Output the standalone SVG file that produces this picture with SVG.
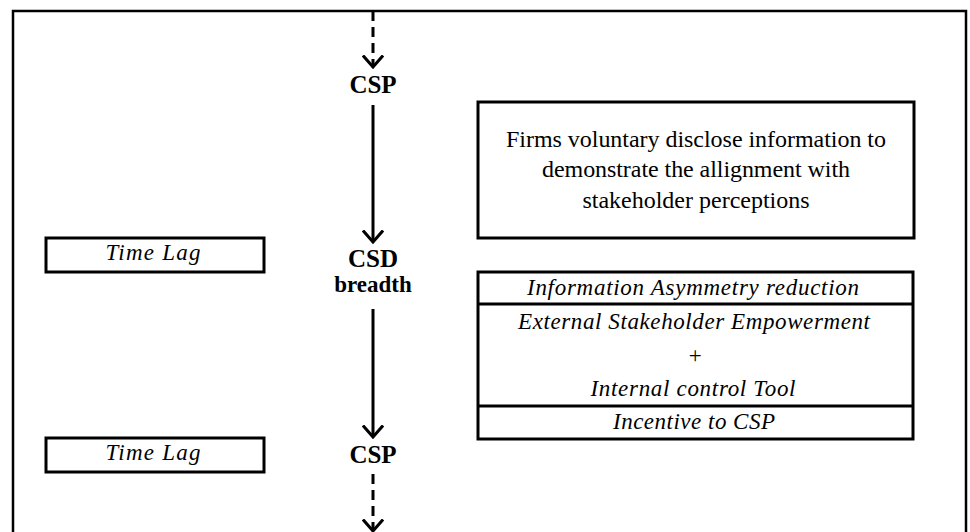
<svg xmlns="http://www.w3.org/2000/svg" width="970" height="532" viewBox="0 0 970 532">
<defs>
<style>
.box{fill:#fff;stroke:#000;stroke-width:3}
.frame{fill:none;stroke:#000;stroke-width:2.5}
.ln{stroke:#000;stroke-width:3;fill:none}
.dash{stroke-dasharray:10 6}
.lbl{font-family:"Liberation Serif",serif;font-weight:bold;font-size:25px;text-anchor:middle;fill:#000}
.it{font-family:"Liberation Serif",serif;font-style:italic;font-size:23px;text-anchor:middle;fill:#000}
.tx{font-family:"Liberation Serif",serif;font-size:24px;text-anchor:middle;fill:#000}
</style>
<marker id="ah" viewBox="0 0 14 22" refX="12.5" refY="11" markerWidth="14" markerHeight="22" markerUnits="userSpaceOnUse" orient="auto">
<path d="M1,1 L12.5,11 L1,21" fill="none" stroke="#000" stroke-width="3"/>
</marker>
</defs>
<rect x="0" y="0" width="970" height="532" fill="#fff"/>
<path class="frame" d="M13,540 L13,11 L966,11 L966,540"/>
<g id="connectors">
<path class="ln dash" d="M373,11 L373,67" marker-end="url(#ah)"/>
<path class="ln" d="M373,105 L373,242" marker-end="url(#ah)"/>
<path class="ln" d="M373,309 L373,437" marker-end="url(#ah)"/>
<path class="ln dash" d="M373,474 L373,531" marker-end="url(#ah)"/>
</g>
<g id="csp-top"><text class="lbl" x="373" y="93">CSP</text></g>
<g id="csd-breadth"><text class="lbl" x="373" y="267">CSD</text><text class="lbl" x="373" y="292" style="font-size:23px">breadth</text></g>
<g id="csp-bottom"><text class="lbl" x="373" y="463">CSP</text></g>
<g id="timelag-1"><rect class="box" x="46" y="238" width="218" height="34"/><text class="it" x="153" y="260" textLength="95">Time Lag</text></g>
<g id="timelag-2"><rect class="box" x="46" y="438" width="218" height="34"/><text class="it" x="153" y="460" textLength="95">Time Lag</text></g>
<g id="firms-box"><rect class="box" x="478" y="102" width="436" height="136"/>
<text class="tx" x="696" y="147" textLength="380">Firms voluntary disclose information to</text>
<text class="tx" x="696" y="177" textLength="308">demonstrate the allignment with</text>
<text class="tx" x="696" y="208">stakeholder perceptions</text></g>
<g id="mechanisms"><rect class="box" x="478" y="272" width="435" height="167"/>
<line class="ln" x1="478" y1="304" x2="913" y2="304"/>
<line class="ln" x1="478" y1="406" x2="913" y2="406"/>
<text class="it" x="693" y="295" textLength="332">Information Asymmetry reduction</text>
<text class="it" x="694" y="329" textLength="352">External Stakeholder Empowerment</text>
<text class="it" x="695" y="363">+</text>
<text class="it" x="693" y="396" textLength="205">Internal control Tool</text>
<text class="it" x="694" y="429" textLength="162">Incentive to CSP</text></g>
</svg>
